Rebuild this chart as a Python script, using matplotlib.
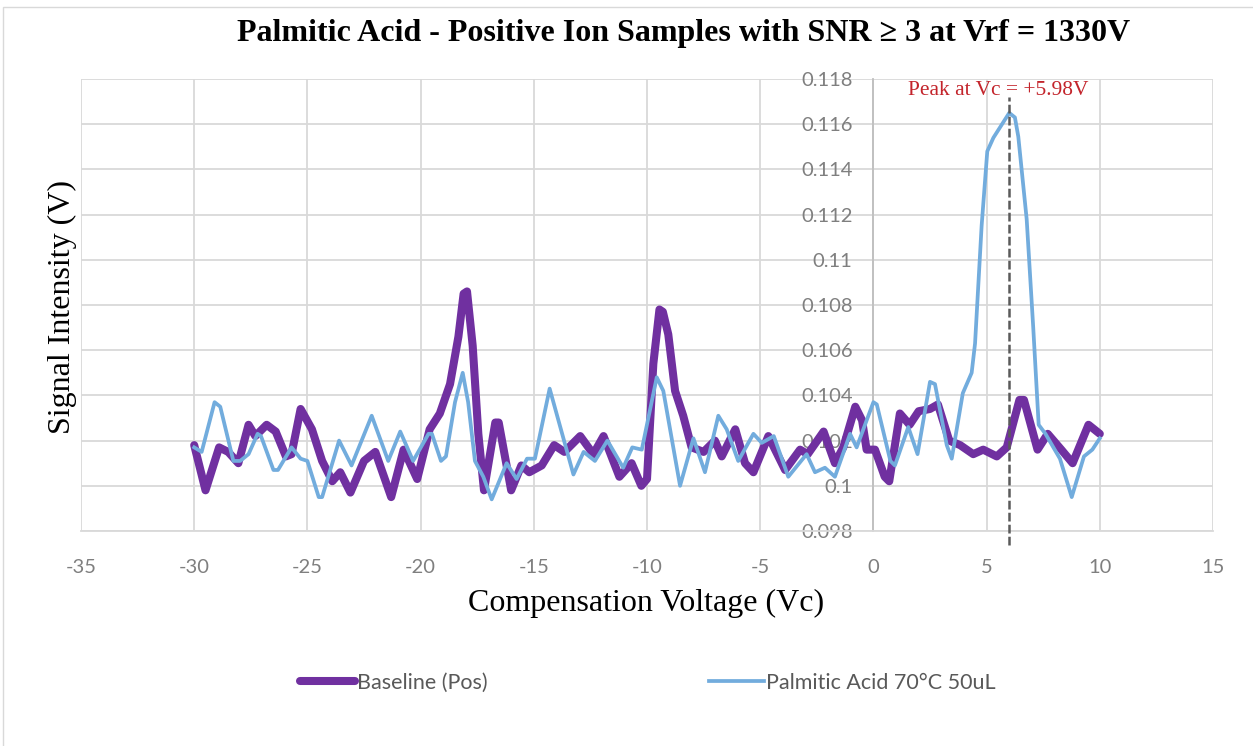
import matplotlib
matplotlib.use('Agg')
import matplotlib.pyplot as plt
from matplotlib.patches import Rectangle

# Dados (Vc em V, sinal em V)
baseline_vc = [-30.0, -29.5, -28.9, -28.5, -28.05, -27.6, -27.3, -26.8, -26.4, -25.95,
               -25.7, -25.3, -24.8, -24.35, -23.9, -23.55, -23.1, -22.5, -22.0, -21.3,
               -20.75, -20.15, -19.6, -19.15, -18.7, -18.33, -18.1, -17.95, -17.7, -17.45,
               -17.2, -16.7, -16.55, -16.0, -15.55, -15.2, -14.65, -14.1, -13.65, -12.95,
               -12.37, -11.92, -11.22, -10.68, -10.25, -10.0, -9.72, -9.45, -9.3, -9.06,
               -8.76, -8.4, -8.03, -7.5, -7.0, -6.7, -6.1, -5.67, -5.3, -4.64,
               -3.9, -3.24, -2.9, -2.2, -1.7, -1.33, -0.8, -0.5, -0.3, 0.07,
               0.5, 0.7, 1.17, 1.6, 2.0, 2.5, 2.85, 3.35, 3.83, 4.41,
               4.85, 5.45, 5.89, 6.45, 6.65, 7.25, 7.7, 8.3, 8.8, 9.5, 10.0]
baseline_sinal = [0.1018, 0.0998, 0.1017, 0.1015, 0.1010, 0.1027, 0.1022, 0.1027, 0.1024, 0.1013,
                  0.1014, 0.1034, 0.1025, 0.1011, 0.1002, 0.1006, 0.0997, 0.1011, 0.1015, 0.0995,
                  0.1016, 0.1003, 0.1025, 0.1032, 0.1045, 0.1066, 0.1085, 0.1086, 0.1062, 0.1023,
                  0.0998, 0.1028, 0.1028, 0.0998, 0.1009, 0.1006, 0.1009, 0.1018, 0.1015, 0.1022,
                  0.1014, 0.1022, 0.1004, 0.1010, 0.1000, 0.1003, 0.1054, 0.1078, 0.1077, 0.1067,
                  0.1042, 0.1031, 0.1017, 0.1015, 0.1020, 0.1013, 0.1025, 0.1010, 0.1006, 0.1022,
                  0.1007, 0.1016, 0.1014, 0.1024, 0.1010, 0.1017, 0.1035, 0.1029, 0.1016, 0.1016,
                  0.1004, 0.1002, 0.1032, 0.1027, 0.1033, 0.1034, 0.1036, 0.1020, 0.1018, 0.1014,
                  0.1016, 0.1013, 0.1017, 0.1038, 0.1038, 0.1016, 0.1023, 0.1016, 0.1010, 0.1027, 0.1023]

amostra_vc = [-30.0, -29.67, -29.1, -28.85, -28.27, -27.97, -27.6, -27.2, -27.05, -26.5,
              -26.3, -25.7, -25.3, -25.0, -24.5, -24.35, -23.6, -23.05, -22.16, -21.43,
              -20.9, -20.33, -19.65, -19.5, -19.1, -18.88, -18.48, -18.14, -17.9, -17.6,
              -17.23, -16.86, -16.2, -15.76, -15.3, -14.95, -14.3, -13.25, -12.8, -12.3,
              -11.75, -11.05, -10.65, -10.23, -9.57, -9.28, -8.54, -7.95, -7.44, -6.85,
              -6.48, -5.97, -5.3, -4.93, -4.4, -3.76, -2.95, -2.58, -2.14, -1.7,
              -1.03, -0.74, 0.0, 0.15, 0.75, 0.95, 1.54, 1.95, 2.5, 2.72,
              3.24, 3.46, 3.95, 4.34, 4.49, 4.78, 5.03, 5.3, 6.0, 6.25,
              6.4, 6.77, 7.06, 7.3, 7.6, 8.24, 8.76, 9.3, 9.67, 10.0]
amostra_sinal = [0.1017, 0.1015, 0.1037, 0.1035, 0.1011, 0.1011, 0.1014, 0.1023, 0.1022, 0.1007,
                 0.1007, 0.1017, 0.1012, 0.1011, 0.0995, 0.0995, 0.1020, 0.1009, 0.1031, 0.1011,
                 0.1024, 0.1011, 0.1023, 0.1023, 0.1011, 0.1013, 0.1037, 0.1050, 0.1037, 0.1011,
                 0.1004, 0.0994, 0.1010, 0.1003, 0.1012, 0.1012, 0.1043, 0.1005, 0.1015, 0.1011,
                 0.1020, 0.1008, 0.1017, 0.1016, 0.1048, 0.1042, 0.1000, 0.1021, 0.1006, 0.1031,
                 0.1025, 0.1011, 0.1023, 0.1019, 0.1022, 0.1004, 0.1014, 0.1006, 0.1008, 0.1004,
                 0.1023, 0.1017, 0.1037, 0.1036, 0.1011, 0.1009, 0.1026, 0.1014, 0.1046, 0.1045,
                 0.1018, 0.1012, 0.1041, 0.1050, 0.1063, 0.1115, 0.1148, 0.1154, 0.1165, 0.1163,
                 0.11545, 0.1118, 0.1070, 0.1027, 0.1023, 0.1012, 0.0995, 0.1013, 0.1016, 0.1021]

x_ticks = [-35, -30, -25, -20, -15, -10, -5, 0, 5, 10, 15]
x_tick_labels = ['-35', '-30', '-25', '-20', '-15', '-10', '-5', '0', '5', '10', '15']
y_ticks = [0.098, 0.100, 0.102, 0.104, 0.106, 0.108, 0.110, 0.112, 0.114, 0.116, 0.118]
y_tick_labels = ['0.098', '0.1', '0.102', '0.104', '0.106', '0.108', '0.11',
                 '0.112', '0.114', '0.116', '0.118']
pico_vc = 5.98

plt.rcParams['font.family'] = ['Lato', 'DejaVu Sans']
serif = ['Liberation Serif', 'DejaVu Serif']

fig = plt.figure(figsize=(12.53, 7.46), dpi=100)
ax = fig.add_axes([81 / 1253, 1 - 531 / 746, 1132 / 1253, 452 / 746])

# as linhas ficam por cima dos rótulos do eixo y, como no Excel
ax.plot(baseline_vc, baseline_sinal, color='#7030A0', lw=5.8, zorder=3,
        solid_joinstyle='round', solid_capstyle='round', label='Baseline (Pos)')
ax.plot(amostra_vc, amostra_sinal, color='#72ACDD', lw=2.7, zorder=3,
        solid_joinstyle='round', label='Palmitic Acid 70°C 50uL')

# Linha do pico e anotação
ax.plot([pico_vc, pico_vc], [0.0974, 0.1172], ls='--', dashes=(3.5, 1.3),
        color='#5A5A5A', lw=1.8, clip_on=False, zorder=4)
ax.text(5.5, 0.11747, 'Peak at Vc = +5.98V', color='#C3242B', fontsize=15.4,
        family=serif, ha='center', va='center')

ax.set_xlim(-35, 15)
ax.set_ylim(0.098, 0.118)
ax.set_xticks(x_ticks)
ax.set_xticklabels(x_tick_labels)
ax.set_yticks(y_ticks)
ax.set_yticklabels(y_tick_labels)
ax.grid(True, color='#D9D9D9', lw=1.3)
ax.set_axisbelow(True)

for lado in ['top', 'right']:
    ax.spines[lado].set_visible(False)
ax.spines['left'].set_position(('data', 0))
ax.spines['left'].set_color('#BFBFBF')
ax.spines['left'].set_linewidth(1.3)
ax.spines['bottom'].set_color('#D9D9D9')
ax.spines['bottom'].set_linewidth(1.3)
ax.tick_params(length=0, labelsize=14.5, labelcolor='#7F7F7F')
ax.tick_params(axis='x', pad=20)
ax.tick_params(axis='y', pad=15)

fig.text(683.5 / 1253, 1 - 33 / 746,
         'Palmitic Acid - Positive Ion Samples with SNR ≥ 3 at Vrf = 1330V',
         family=serif, weight='bold', fontsize=23, ha='center', va='center')
fig.text(646 / 1253, 1 - 603 / 746, 'Compensation Voltage (Vc)',
         family=serif, fontsize=23, ha='center', va='center')
fig.text(62 / 1253, 1 - 307 / 746, 'Signal Intensity (V)',
         family=serif, fontsize=23, ha='center', va='center', rotation=90)

fig.legend(loc='center', bbox_to_anchor=(648 / 1253, 1 - 683 / 746), ncol=2,
           frameon=False, fontsize=15.5, labelcolor='#595959', handlelength=2.55,
           handletextpad=0.1, columnspacing=10.3)

# Moldura da área do gráfico
fig.add_artist(Rectangle((3 / 1253, -0.5), 2, 1.5 - 7 / 746, transform=fig.transFigure,
                         fill=False, edgecolor='#D9D9D9', lw=1))

fig.savefig('out.png', dpi=100)
